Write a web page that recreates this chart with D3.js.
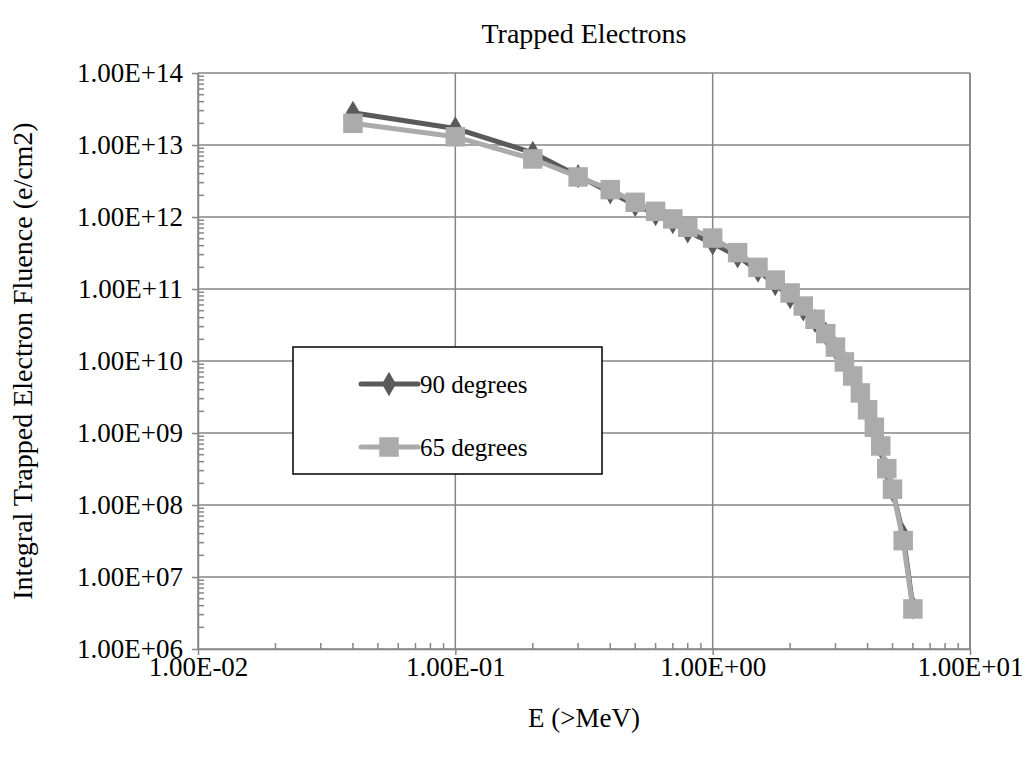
<!DOCTYPE html>
<html><head><meta charset="utf-8">
<script src="https://cdn.jsdelivr.net/npm/d3@7"></script>
<style>body{margin:0;background:#fff}svg{display:block}</style>
</head><body>
<script>
const energies = [0.04,0.1,0.2,0.3,0.4,0.5,0.6,0.7,0.8,1.0,1.25,1.5,1.75,2.0,2.25,2.5,2.75,3.0,3.25,3.5,3.75,4.0,4.25,4.5,4.75,5.0,5.5,6.0];
const fluence90 = [2.8e13,1.7e13,7.8e12,3.7e12,2.2e12,1.47e12,1.1e12,8.5e11,6.3e11,4.3e11,2.85e11,1.8e11,1.17e11,7.7e10,5.2e10,3.6e10,2.4e10,1.5e10,9.7e9,6.0e9,3.5e9,2.0e9,1.15e9,6.4e8,3.1e8,1.6e8,3.8e7,3.8e6];
const fluence65 = [2.0e13,1.3e13,6.4e12,3.6e12,2.4e12,1.6e12,1.2e12,9.4e11,7.2e11,5.1e11,3.2e11,2.0e11,1.33e11,8.8e10,5.8e10,3.8e10,2.4e10,1.56e10,9.7e9,6.2e9,3.6e9,2.1e9,1.2e9,6.6e8,3.2e8,1.66e8,3.2e7,3.6e6];
const xTicks = [0.01,0.1,1,10];
const xTickLabels = ["1.00E-02","1.00E-01","1.00E+00","1.00E+01"];
const yTicks = [1e6,1e7,1e8,1e9,1e10,1e11,1e12,1e13,1e14];
const yTickLabels = ["1.00E+06","1.00E+07","1.00E+08","1.00E+09","1.00E+10","1.00E+11","1.00E+12","1.00E+13","1.00E+14"];
const seriesNames = ["90 degrees","65 degrees"];

const W=1032,H=759;
const L=198,R=970,T=73,B=649;
const font="'Liberation Serif','Times New Roman',serif";
const svg=d3.select("body").append("svg").attr("width",W).attr("height",H);
const x=d3.scaleLog().domain([0.01,10]).range([L,R]);
const y=d3.scaleLog().domain([1e6,1e14]).range([B,T]);
const gridC="#868686";

// grid
svg.append("g").selectAll("line").data(xTicks).join("line")
  .attr("x1",d=>x(d)).attr("x2",d=>x(d)).attr("y1",T).attr("y2",B)
  .attr("stroke",gridC).attr("stroke-width",1.5);
svg.append("g").selectAll("line").data(yTicks).join("line")
  .attr("x1",L).attr("x2",R).attr("y1",d=>y(d)).attr("y2",d=>y(d))
  .attr("stroke",gridC).attr("stroke-width",1.5);

// minor ticks
const xMinor=[], yMinor=[];
for(let e=-2;e<1;e++) for(let k=2;k<=9;k++) xMinor.push(k*Math.pow(10,e));
for(let e=6;e<14;e++) for(let k=2;k<=9;k++) yMinor.push(k*Math.pow(10,e));
svg.append("g").selectAll("line").data(xMinor).join("line")
  .attr("x1",d=>x(d)).attr("x2",d=>x(d)).attr("y1",B).attr("y2",B-6)
  .attr("stroke",gridC).attr("stroke-width",1.5);
svg.append("g").selectAll("line").data(yMinor).join("line")
  .attr("x1",L).attr("x2",L+6).attr("y1",d=>y(d)).attr("y2",d=>y(d))
  .attr("stroke",gridC).attr("stroke-width",1.5);

// axes
const xAxis=d3.axisBottom(x).tickValues(xTicks).tickFormat((d,i)=>xTickLabels[i]).tickSize(6).tickSizeOuter(0);
const gx=svg.append("g").attr("transform",`translate(0,${B})`).call(xAxis);
gx.select(".domain").attr("stroke",gridC).attr("stroke-width",1.5);
gx.selectAll(".tick line").attr("stroke",gridC).attr("stroke-width",1.5);
gx.selectAll(".tick text").attr("font-family",font).attr("font-size",27).attr("fill","#000").attr("y",18).attr("dy","0.35em");
const yAxis=d3.axisLeft(y).tickValues(yTicks).tickFormat((d,i)=>yTickLabels[i]).tickSize(6).tickSizeOuter(0);
const gy=svg.append("g").attr("transform",`translate(${L},0)`).call(yAxis);
gy.select(".domain").attr("stroke",gridC).attr("stroke-width",1.5);
gy.selectAll(".tick line").attr("stroke",gridC).attr("stroke-width",1.5);
gy.selectAll(".tick text").attr("font-family",font).attr("font-size",27).attr("fill","#000").attr("x",-15).attr("dy","0.33em");
// right border
svg.append("line").attr("x1",R).attr("x2",R).attr("y1",T).attr("y2",B).attr("stroke",gridC).attr("stroke-width",1.5);

// series
const colors=["#5a5a5a","#ababab"];
const data=[fluence90,fluence65];
const line=d3.line().x(d=>x(d[0])).y(d=>y(d[1]));
const syms=[d3.symbol().type(d3.symbolDiamond).size(170),d3.symbol().type(d3.symbolSquare).size(380)];
data.forEach((vals,si)=>{
  const pts=energies.map((e,i)=>[e,vals[i]]);
  svg.append("path").datum(pts).attr("d",line).attr("fill","none")
    .attr("stroke",colors[si]).attr("stroke-width",5).attr("stroke-linejoin","round");
  svg.append("g").selectAll("path").data(pts).join("path")
    .attr("transform",d=>`translate(${x(d[0])},${y(d[1])})`)
    .attr("d",syms[si]).attr("fill",colors[si]);
});

// titles
svg.append("text").attr("x",584).attr("y",33).attr("dy","0.35em").attr("text-anchor","middle")
  .attr("font-family",font).attr("font-size",28).text("Trapped Electrons");
svg.append("text").attr("x",584).attr("y",718).attr("dy","0.35em").attr("text-anchor","middle")
  .attr("font-family",font).attr("font-size",27).text("E (>MeV)");
svg.append("text").attr("transform",`translate(22,${(T+B)/2}) rotate(-90)`).attr("dy","0.35em").attr("text-anchor","middle")
  .attr("font-family",font).attr("font-size",28).text("Integral Trapped Electron Fluence  (e/cm2)");

// legend
const lg=svg.append("g");
lg.append("rect").attr("x",293).attr("y",347).attr("width",309).attr("height",127)
  .attr("fill","#fff").attr("stroke","#000").attr("stroke-width",1.5);
const ly=[384,447];
seriesNames.forEach((n,i)=>{
  lg.append("line").attr("x1",361).attr("x2",418).attr("y1",ly[i]).attr("y2",ly[i])
    .attr("stroke",colors[i]).attr("stroke-width",5).attr("stroke-linecap","round");
  lg.append("path").attr("transform",`translate(389,${ly[i]})`).attr("d",syms[i]).attr("fill",colors[i]);
  lg.append("text").attr("x",420).attr("y",ly[i]).attr("dy","0.35em").attr("font-family",font).attr("font-size",25).text(n);
});
</script>
</body></html>
